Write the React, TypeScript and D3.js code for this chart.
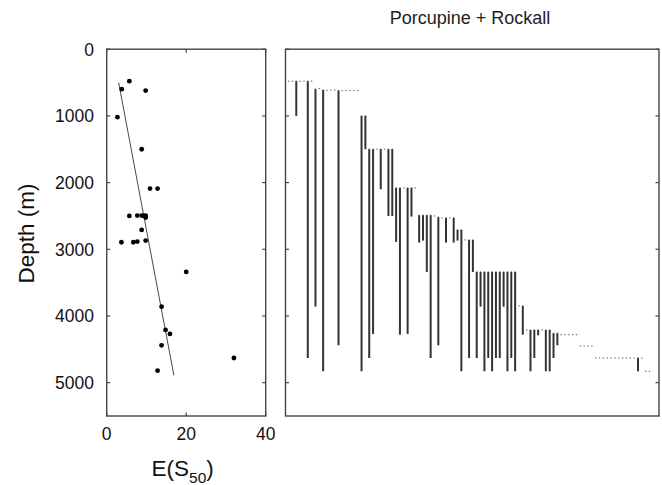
import React from "react";
import * as d3 from "d3";

// ---- Left panel: rarefied richness vs depth ----
const richnessE = [5.7, 3.8, 9.8, 2.7, 8.8, 10.9, 12.8, 5.7, 7.7, 8.8, 9.4, 9.8, 9.8, 8.8, 3.7, 6.7, 7.7, 9.8, 20.0, 13.8, 14.8, 15.9, 13.8, 12.8, 32.0];
const richnessDepth = [480, 600, 620, 1020, 1500, 2090, 2090, 2500, 2495, 2495, 2500, 2495, 2525, 2710, 2895, 2895, 2885, 2870, 3340, 3860, 4210, 4270, 4440, 4820, 4630];
const regressionE = [3.0, 16.9];
const regressionDepth = [500, 4890];

// ---- Right panel: species depth ranges (one column per species) ----
const speciesTop = [
  480, 480, 480, 480, 480, 480, 480,
  600, 590, 610, 615, 615, 615, 620, 620, 620, 620, 620, 620,
  1000, 1000,
  1500, 1500, 1500, 1500, 1500, 1500, 1500,
  2080, 2080, 2080, 2080, 2080, 2080,
  2490, 2490, 2490, 2490, 2500, 2520, 2530, 2530, 2530, 2530,
  2710, 2710, 2860, 2860, 2860,
  3340, 3340, 3340, 3340, 3340, 3340, 3340, 3340, 3340, 3340, 3340,
  3850, 3850,
  4210, 4210, 4210, 4210, 4210, 4210, 4210, 4260, 4260,
  4280, 4280, 4280, 4280, 4280,
  4450, 4450, 4450, 4450,
  4630, 4630, 4630, 4630, 4630, 4630, 4630, 4630, 4630, 4630, 4630, 4630, 4630,
  4830, 4830,
];
const speciesBottom = [
  480, 480, 1000, 480, 480, 4630, 480,
  3860, 590, 4830, 615, 615, 615, 4440, 620, 620, 620, 620, 620,
  4830, 1500,
  4630, 4270, 1500, 2100, 1500, 2500, 2500,
  2890, 4280, 2080, 4270, 2510, 2080,
  2900, 2870, 3340, 4630, 2500, 4440, 2530, 2900, 2530, 2900,
  2870, 4830, 2860, 4630, 3340,
  4630, 3860, 4830, 4630, 4830, 4630, 4630, 3860, 4830, 4630, 4830,
  3850, 4280,
  4210, 4830, 4630, 4290, 4210, 4830, 4830, 4630, 4440,
  4280, 4280, 4280, 4280, 4280,
  4450, 4450, 4450, 4450,
  4630, 4630, 4630, 4630, 4630, 4630, 4630, 4630, 4630, 4630, 4630, 4830, 4630,
  4830, 4830,
];

const depthTicks = [0, 1000, 2000, 3000, 4000, 5000];
const eTicks = [0, 20, 40];
const titleText = "Porcupine + Rockall";

const W = 662;
const H = 485;
const plotTop = 49.2;
const plotBottom = 416;
const leftX0 = 106.7;
const leftX1 = 265.7;
const rightX0 = 285.5;
const rightX1 = 659;

const FONT = "'Liberation Sans', Arial, Helvetica, sans-serif";
const FRAME = "#444";

export default function App() {
  const y = d3.scaleLinear().domain([0, 5500]).range([plotTop, plotBottom]);
  const xE = d3.scaleLinear().domain([0, 40]).range([leftX0, leftX1]);
  const idx = d3.range(speciesTop.length);
  const xS = d3.scaleLinear().domain([0, speciesTop.length - 1]).range([288.6, 649.5]);
  const regLine = d3
    .line<number>()
    .x((i) => xE(regressionE[i]))
    .y((i) => y(regressionDepth[i]));
  const tickLen = 3.5;

  return (
    <svg
      width={W}
      height={H}
      style={{ position: "absolute", left: 0, top: 0, background: "#fff" }}
      fontFamily={FONT}
    >
      <rect x={0} y={0} width={W} height={H} fill="#fff" />
      {/* Title */}
      <text x={470} y={24} fontSize={18} textAnchor="middle" fill="#222">
        {titleText}
      </text>

      {/* Left panel frame */}
      <rect
        x={leftX0}
        y={plotTop}
        width={leftX1 - leftX0}
        height={plotBottom - plotTop}
        fill="none"
        stroke={FRAME}
        strokeWidth={1.4}
      />
      {depthTicks.map((t) => (
        <g key={"ly" + t}>
          <line x1={leftX0} x2={leftX0 + tickLen} y1={y(t)} y2={y(t)} stroke={FRAME} strokeWidth={1.2} />
          <line x1={leftX1} x2={leftX1 - tickLen} y1={y(t)} y2={y(t)} stroke={FRAME} strokeWidth={1.2} />
          <text x={94} y={y(t)} dy="0.36em" fontSize={17.5} textAnchor="end" fill="#111">
            {t}
          </text>
        </g>
      ))}
      {eTicks.map((t) => (
        <g key={"lx" + t}>
          <line x1={xE(t)} x2={xE(t)} y1={plotBottom} y2={plotBottom - tickLen} stroke={FRAME} strokeWidth={1.2} />
          <line x1={xE(t)} x2={xE(t)} y1={plotTop} y2={plotTop + tickLen} stroke={FRAME} strokeWidth={1.2} />
          <text x={xE(t)} y={440} fontSize={17.5} textAnchor="middle" fill="#111">
            {t}
          </text>
        </g>
      ))}
      {/* regression line */}
      <path d={regLine([0, 1]) || ""} fill="none" stroke="#333" strokeWidth={0.9} />
      {/* points */}
      {richnessE.map((e, i) => (
        <circle key={"p" + i} cx={xE(e)} cy={y(richnessDepth[i])} r={2.4} fill="#000" />
      ))}

      {/* Axis titles */}
      <text
        transform={`translate(34,233.5) rotate(-90)`}
        fontSize={22.5}
        textAnchor="middle"
        fill="#111"
      >
        Depth (m)
      </text>
      <text x={151.5} y={476} fontSize={22.5} fill="#111">
        E(S
        <tspan fontSize={15.5} dy={7}>
          50
        </tspan>
        <tspan dy={-7}>)</tspan>
      </text>

      {/* Right panel frame */}
      <rect
        x={rightX0}
        y={plotTop}
        width={rightX1 - rightX0}
        height={plotBottom - plotTop}
        fill="none"
        stroke={FRAME}
        strokeWidth={1.4}
      />
      {depthTicks.map((t) => (
        <g key={"ry" + t}>
          <line x1={rightX0} x2={rightX0 + tickLen} y1={y(t)} y2={y(t)} stroke={FRAME} strokeWidth={1.2} />
          <line x1={rightX1} x2={rightX1 - tickLen} y1={y(t)} y2={y(t)} stroke={FRAME} strokeWidth={1.2} />
        </g>
      ))}
      {/* species ranges */}
      {idx.map((i) => {
        const top = speciesTop[i];
        const bot = speciesBottom[i];
        const cx = xS(i);
        return (
          <g key={"s" + i}>
            <rect x={cx - 0.7} y={y(top) - 0.6} width={1.4} height={1.2} fill="#777" />
            {bot > top && (
              <line x1={cx} x2={cx} y1={y(top)} y2={y(bot)} stroke="#333" strokeWidth={2} />
            )}
          </g>
        );
      })}
    </svg>
  );
}
